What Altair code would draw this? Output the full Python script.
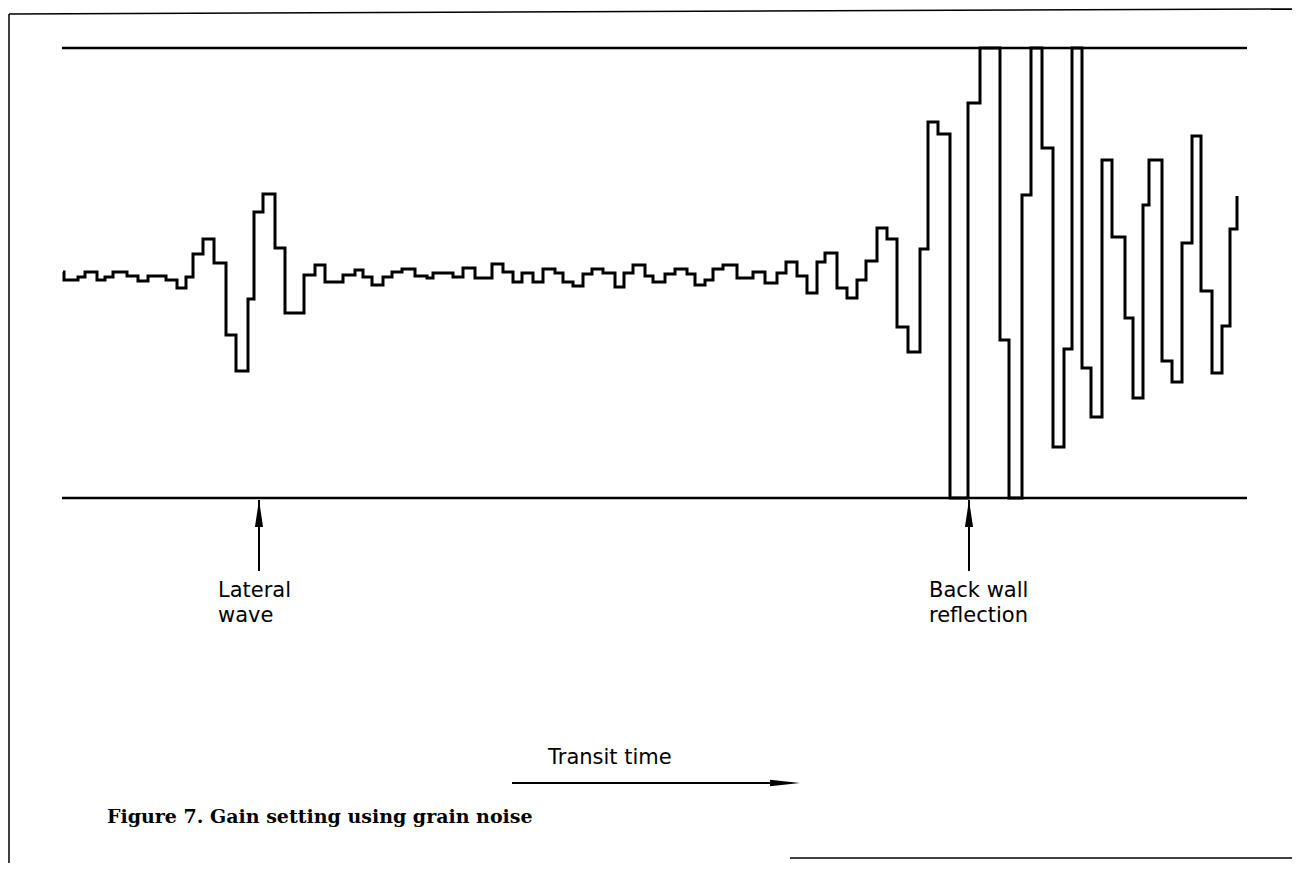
import altair as alt
import pandas as pd

times = [
    1, 2, 16, 23, 35, 43, 51, 65, 76, 86,
    104, 115, 124, 131, 141, 152, 164, 174, 186, 192,
    201, 213, 223, 242, 253, 263, 281, 293, 301, 310,
    321, 330, 340, 353, 365, 371, 391, 401, 413, 430,
    441, 451, 460, 471, 481, 493, 501, 511, 521, 530,
    541, 553, 562, 571, 583, 591, 603, 613, 625, 633,
    643, 651, 661, 675, 691, 703, 715, 724, 735, 745,
    755, 763, 775, 785, 795, 804, 815, 825, 835, 846,
    858, 866, 876, 888, 906, 918, 938, 947, 960, 969,
    980, 991, 1002, 1010, 1020, 1029, 1040, 1050, 1063, 1071,
    1081, 1087, 1100, 1110, 1120, 1130, 1139, 1150, 1160, 1168,
    1175,
]
amps = [
    226, 218, 221, 226, 218, 221, 226, 222, 217, 222,
    218, 210, 221, 244, 259, 235, 163, 127, 199, 286,
    304, 250, 185, 223, 233, 216, 223, 228, 221, 213,
    221, 226, 229, 222, 220, 225, 221, 230, 220, 234,
    226, 216, 225, 216, 229, 225, 216, 212, 224, 229,
    225, 211, 225, 233, 222, 216, 224, 229, 224, 213,
    218, 229, 233, 220, 226, 215, 225, 236, 222, 205,
    236, 245, 210, 200, 218, 237, 270, 259, 171, 146,
    249, 376, 364, 0, 395, 450, 158, 0, 303, 450,
    350, 51, 149, 450, 130, 81, 338, 261, 180, 100,
    293, 338, 137, 116, 255, 362, 207, 125, 172, 269,
    302,
]
assert len(times) == len(amps)

# screen limits (top and bottom graticule lines)
screen_start, screen_end = 0, 1185
screen_levels = [0, 450]

# annotations
label_texts = ["Lateral", "wave", "Back wall", "reflection", "Transit time"]
label_t = [156, 156, 867, 867, 486]
label_a = [-99, -124, -99, -124, -266]
arrow_t = [197, 907]          # vertical arrows (lateral wave, back wall)
arrow_top, arrow_bottom = -2, -73
time_arrow_t = [450, 723]
time_arrow_a = -285
caption = "Figure 7. Gain setting using grain noise"
caption_t, caption_a = 45, -319

X_DOMAIN = [-54, 1230]
Y_DOMAIN = [-365, 490]
W, H = 1284, 855

xs = alt.Scale(domain=X_DOMAIN, nice=False, zero=False)
ys = alt.Scale(domain=Y_DOMAIN, nice=False, zero=False)

trace = pd.DataFrame({"t": times, "a": amps})
wave = alt.Chart(trace).mark_line(
    interpolate="step-after", color="black", strokeWidth=3, strokeJoin="miter", clip=False
).encode(
    x=alt.X("t:Q", scale=xs, axis=None),
    y=alt.Y("a:Q", scale=ys, axis=None),
)

screen = pd.DataFrame({"t": [screen_start] * 2, "t2": [screen_end] * 2, "a": screen_levels})
screen_lines = alt.Chart(screen).mark_rule(color="black", strokeWidth=2.5).encode(
    x=alt.X("t:Q", scale=xs, axis=None), x2="t2:Q",
    y=alt.Y("a:Q", scale=ys, axis=None),
)

arrows = pd.DataFrame({"t": arrow_t, "a": [arrow_top] * 2, "a2": [arrow_bottom] * 2})
arrow_shafts = alt.Chart(arrows).mark_rule(color="black", strokeWidth=2).encode(
    x=alt.X("t:Q", scale=xs, axis=None),
    y=alt.Y("a:Q", scale=ys, axis=None), y2="a2:Q",
)
arrow_heads = alt.Chart(pd.DataFrame({"t": arrow_t, "a": [arrow_top - 13.5] * 2})).mark_point(
    shape="M0,-1L0.3,1L-0.3,1Z", size=729, filled=True, color="black", opacity=1
).encode(
    x=alt.X("t:Q", scale=xs, axis=None),
    y=alt.Y("a:Q", scale=ys, axis=None),
)

time_arrow = alt.Chart(pd.DataFrame({"t": [time_arrow_t[0]], "t2": [time_arrow_t[1]], "a": [time_arrow_a]})).mark_rule(
    color="black", strokeWidth=1.8
).encode(
    x=alt.X("t:Q", scale=xs, axis=None), x2="t2:Q",
    y=alt.Y("a:Q", scale=ys, axis=None),
)
time_head = alt.Chart(pd.DataFrame({"t": [time_arrow_t[1]], "a": [time_arrow_a]})).mark_point(
    shape="M1,0L-1,-0.22L-1,0.22Z", size=900, filled=True, color="black", opacity=1
).encode(
    x=alt.X("t:Q", scale=xs, axis=None),
    y=alt.Y("a:Q", scale=ys, axis=None),
)

labels = alt.Chart(pd.DataFrame({"t": label_t, "a": label_a, "txt": label_texts})).mark_text(
    align="left", baseline="alphabetic", font="DejaVu Sans", fontSize=21, color="black"
).encode(
    x=alt.X("t:Q", scale=xs, axis=None),
    y=alt.Y("a:Q", scale=ys, axis=None),
    text="txt:N",
)

cap = alt.Chart(pd.DataFrame({"t": [caption_t], "a": [caption_a], "txt": [caption]})).mark_text(
    align="left", baseline="middle", font="DejaVu Serif", fontWeight="bold", fontSize=19, color="black"
).encode(
    x=alt.X("t:Q", scale=xs, axis=None),
    y=alt.Y("a:Q", scale=ys, axis=None),
    text="txt:N",
)

# page frame of the scanned figure
frame = pd.DataFrame({
    "t": [-53, -53, 728],
    "a": [484, 484, -360],
    "t2": [1230, -53, 1230],
    "a2": [489, -365, -360],
})
frame_lines = alt.Chart(frame).mark_rule(color="black", strokeWidth=1.5).encode(
    x=alt.X("t:Q", scale=xs, axis=None), x2="t2:Q",
    y=alt.Y("a:Q", scale=ys, axis=None), y2="a2:Q",
)

chart = alt.layer(
    frame_lines, screen_lines, wave, arrow_shafts, arrow_heads, time_arrow, time_head, labels, cap
).properties(
    width=W, height=H, autosize=alt.AutoSizeParams(type="none"), padding=0, background="white"
).configure_view(strokeWidth=0)

chart.save("out.html", embed_options={"renderer": "svg", "actions": False})
